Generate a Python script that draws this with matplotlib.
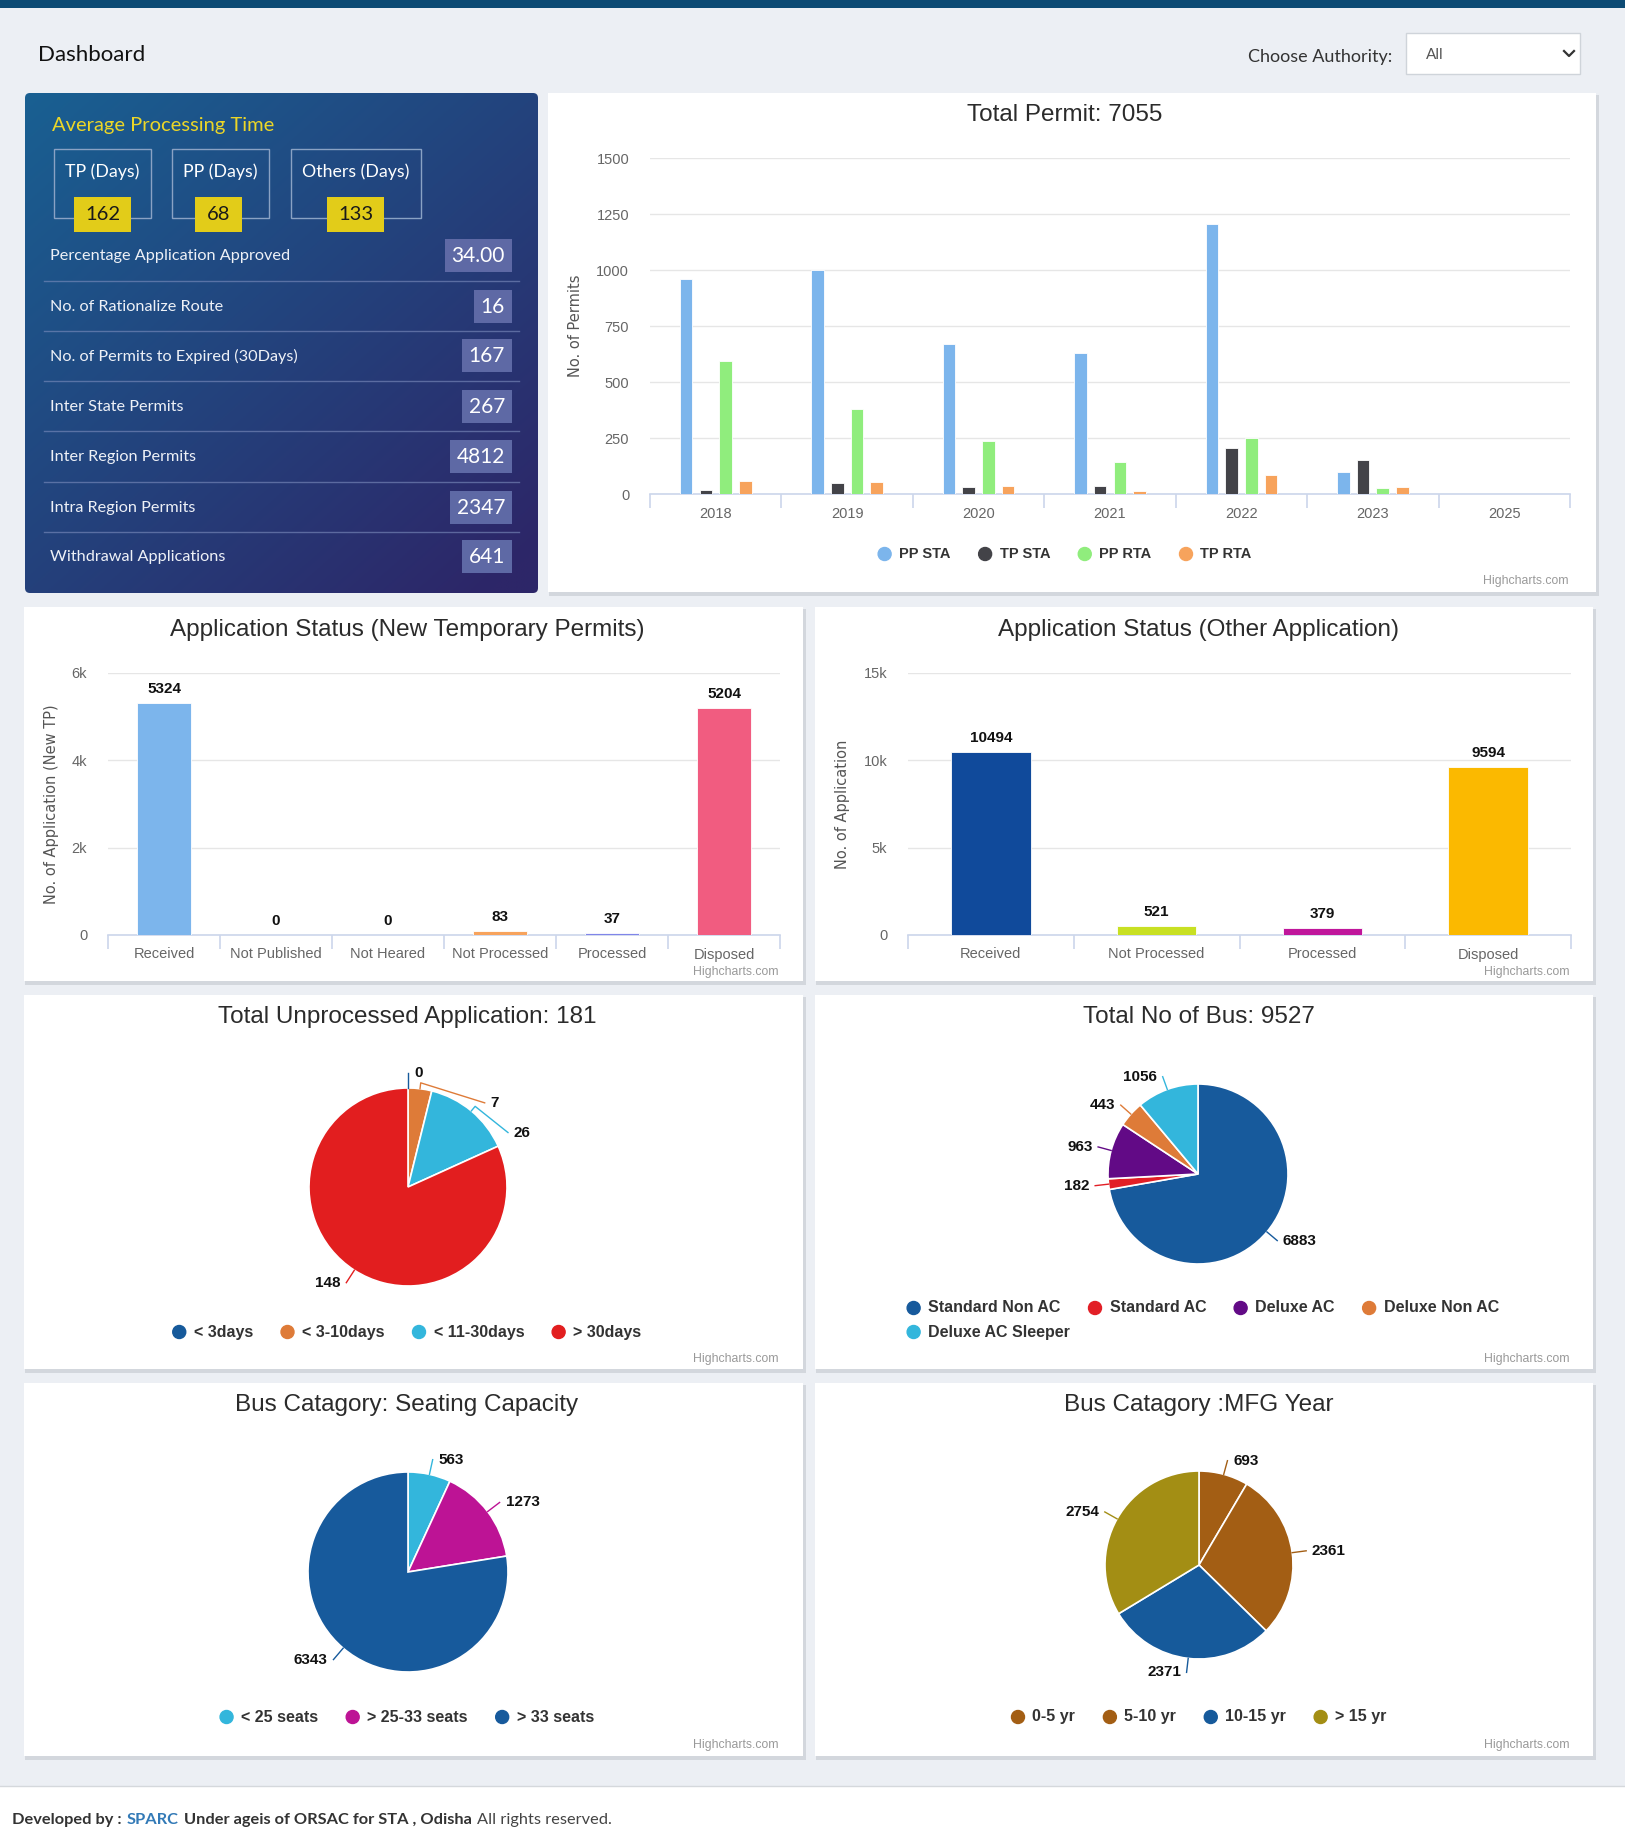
import numpy as np
import matplotlib
matplotlib.use('Agg')
import matplotlib.pyplot as plt
from matplotlib.patches import Rectangle, FancyBboxPatch, Circle
from matplotlib import font_manager as fm

# ---------------- data ----------------
avg_labels = ['TP (Days)', 'PP (Days)', 'Others (Days)']
avg_values = ['162', '68', '133']
stat_labels = ['Percentage Application Approved', 'No. of Rationalize Route',
               'No. of Permits to Expired (30Days)', 'Inter State Permits',
               'Inter Region Permits', 'Intra Region Permits', 'Withdrawal Applications']
stat_values = ['34.00', '16', '167', '267', '4812', '2347', '641']

permit_years = ['2018', '2019', '2020', '2021', '2022', '2023', '2025']
permit_series = ['PP STA', 'TP STA', 'PP RTA', 'TP RTA']
pp_sta = [958, 1002, 669, 629, 1207, 96, 0]
tp_sta = [19, 47, 31, 36, 207, 154, 0]
pp_rta = [595, 381, 235, 141, 252, 25, 0]
tp_rta = [58, 53, 36, 13, 86, 31, 0]
total_permit = 7055

tp_status_cats = ['Received', 'Not Published', 'Not Heared', 'Not Processed', 'Processed', 'Disposed']
tp_status_vals = [5324, 0, 0, 83, 37, 5204]
other_status_cats = ['Received', 'Not Processed', 'Processed', 'Disposed']
other_status_vals = [10494, 521, 379, 9594]

unproc_labels = ['< 3days', '< 3-10days', '< 11-30days', '> 30days']
unproc_vals = [0, 7, 26, 148]
bus_labels = ['Standard Non AC', 'Standard AC', 'Deluxe AC', 'Deluxe Non AC', 'Deluxe AC Sleeper']
bus_vals = [6883, 182, 963, 443, 1056]
seat_labels = ['< 25 seats', '> 25-33 seats', '> 33 seats']
seat_vals = [563, 1273, 6343]
mfg_labels = ['0-5 yr', '5-10 yr', '10-15 yr', '> 15 yr']
mfg_vals = [693, 2361, 2371, 2754]

# ---------------- styles ----------------
permit_colors = ['#7cb5ec', '#434348', '#90ed7d', '#f7a35c']
tp_status_colors = ['#7cb5ec', '#434348', '#90ed7d', '#f7a35c', '#8085e9', '#f15c80']
other_status_colors = ['#104a9b', '#c8e023', '#c0169b', '#fbb900']
unproc_colors = ['#165a9b', '#de7b38', '#33b6dc', '#e21e1f']
bus_colors = ['#175a9c', '#e21f26', '#620a86', '#de7b38', '#33b6dc']
seat_colors = ['#33b6dc', '#bd1395', '#175a9c']
mfg_colors = ['#a35e14', '#a35e14', '#165a9b', '#a38e14']

avail = {f.name for f in fm.fontManager.ttflist}
COND = 'Liberation Sans Narrow' if 'Liberation Sans Narrow' in avail else 'Liberation Sans'
SANS = 'Lato'
plt.rcParams['font.family'] = [COND, 'DejaVu Sans']

W, H = 1625, 1845
fig = plt.figure(figsize=(W / 100, H / 100), dpi=100)
fig.patch.set_facecolor('#eceff4')
bg = fig.add_axes([0, 0, 1, 1])
bg.axis('off')
R = fig.canvas.get_renderer()


def axpx(x0, y0, x1, y1):
    a = fig.add_axes([x0 / W, 1 - y1 / H, (x1 - x0) / W, (y1 - y0) / H])
    a.set_facecolor('none')
    return a


def card(x0, y0, x1, y1):
    bg.add_patch(Rectangle((x0 + 1, y0 + 2), x1 - x0 + 2, y1 - y0 + 2, color='#d3d7dd', zorder=1, lw=0))
    bg.add_patch(Rectangle((x0, y0), x1 - x0, y1 - y0, color='white', zorder=2, lw=0))


def twidth(s, **kw):
    t = bg.text(0, 0, s, **kw)
    w = t.get_window_extent(R).width
    t.remove()
    return w


# ---------------- header ----------------
bg.add_patch(Rectangle((0, 0), W, 8, color='#0c4a74', zorder=2, lw=0))
bg.text(38, 55, 'Dashboard', fontsize=16, family=SANS, color='#111', va='center', zorder=4)
bg.text(1392, 57, 'Choose Authority:', fontsize=13, family=SANS, color='#333', va='center', ha='right', zorder=4)
bg.add_patch(Rectangle((1406, 33), 174, 41, facecolor='white', edgecolor='#cfd4da', lw=1, zorder=2))
bg.text(1426, 55, 'All', fontsize=11, family=SANS, color='#555', va='center', zorder=4)
bg.plot([1564, 1569, 1574], [51, 56, 51], color='#333', lw=1.6, zorder=4)

# ---------------- left gradient panel ----------------
px0, py0, px1, py1 = 25, 93, 538, 593
yy, xx = np.mgrid[0:1:200j, 0:1:200j]
t = np.clip(0.5 * xx + 0.55 * yy, 0, 1)[..., None]
c1 = np.array([0x19, 0x60, 0x92]) / 255
c2 = np.array([0x2d, 0x26, 0x68]) / 255
grad = c1 * (1 - t) + c2 * t
im = bg.imshow(grad, extent=(px0, px1, py1, py0), origin='upper', aspect='auto', zorder=2)
clip = FancyBboxPatch((px0, py0), px1 - px0, py1 - py0, boxstyle='round,pad=0,rounding_size=5',
                      transform=bg.transData, facecolor='none', edgecolor='none')
bg.add_patch(clip)
im.set_clip_path(clip)

bg.text(52, 126, 'Average Processing Time', fontsize=14.5, family=SANS, color='#ecd627', va='center', zorder=4)
box_x = [(54, 151), (172, 269), (291, 421)]
yel_x = [(74, 131), (195, 242), (327, 384)]
for (bx0, bx1), (yx0, yx1), lab, val in zip(box_x, yel_x, avg_labels, avg_values):
    bg.add_patch(Rectangle((bx0, 149), bx1 - bx0, 69, facecolor='none', edgecolor='#8aa2c4', lw=1, zorder=3))
    bg.text((bx0 + bx1) / 2, 172, lab, fontsize=12.8, family=SANS, color='white', ha='center', va='center', zorder=4)
    bg.add_patch(Rectangle((yx0, 197), yx1 - yx0, 35, facecolor='#e2cc19', edgecolor='none', zorder=4))
    bg.text((yx0 + yx1) / 2, 215, val, fontsize=14.5, family=SANS, color='#1a1a1a', ha='center', va='center', zorder=5)

row_y = [256, 307, 356, 407, 457, 508, 557]
for i, (lab, val) in enumerate(zip(stat_labels, stat_values)):
    y = row_y[i]
    bg.text(50, y, lab, fontsize=11.7, family=SANS, color='#eef1f7', va='center', zorder=4)
    w = twidth(val, fontsize=15, family=SANS)
    bw = w + 14
    bg.add_patch(Rectangle((512 - bw, y - 17), bw, 33, facecolor='#5e69a5', edgecolor='none', zorder=3))
    bg.text(512 - 7, y, val, fontsize=15, family=SANS, color='white', ha='right', va='center', zorder=4)
    if i < len(stat_labels) - 1:
        sy = (row_y[i] + row_y[i + 1]) / 2 - 1
        bg.plot([44, 519], [sy, sy], color='#7f8fbf', lw=1, alpha=0.6, zorder=3)

# ---------------- helpers for charts ----------------
def title(cx, y, s):
    bg.text(cx, y, s, fontsize=17.5, color='#2b2b2b', ha='center', va='center', zorder=4, family=COND)


def credits(x, y):
    bg.text(x, y, 'Highcharts.com', fontsize=8.8, color='#999', ha='right', va='center', zorder=4)


def ylabel(x, y, s):
    bg.text(x, y, s, fontsize=10.5, family='DejaVu Sans', color='#555', rotation=90,
            ha='center', va='center', zorder=4)


def legend(items, colors, cx, y, fs=11.5, maxw=None, gap=28, rad=6.5, line_h=24):
    kw = dict(fontsize=fs, fontweight='bold', family=COND)
    widths = [twidth(s, **kw) for s in items]
    iw = [2 * rad + 8 + w for w in widths]
    lines, cur, curw = [], [], 0
    for i, w in enumerate(iw):
        if maxw and cur and curw + w > maxw:
            lines.append(cur)
            cur, curw = [], 0
        cur.append(i)
        curw += w + gap
    lines.append(cur)
    lw_ = [sum(iw[i] for i in l) + gap * (len(l) - 1) for l in lines]
    x0 = cx - max(lw_) / 2
    for li, l in enumerate(lines):
        x = x0
        yy_ = y + li * line_h
        for i in l:
            bg.add_patch(Circle((x + rad, yy_), rad, color=colors[i], zorder=4))
            bg.text(x + 2 * rad + 8, yy_, items[i], va='center', ha='left', color='#333', zorder=4, **kw)
            x += iw[i] + gap


def style_bar_axes(ax, cats, ymax, yticks, ylabels, ypad=14):
    ax.set_xlim(-0.5, len(cats) - 0.5)
    ax.set_ylim(0, ymax)
    for s in ['top', 'right', 'left']:
        ax.spines[s].set_visible(False)
    ax.spines['bottom'].set_color('#ccd6eb')
    ax.spines['bottom'].set_linewidth(1.2)
    ax.set_yticks(yticks)
    ax.set_yticklabels(ylabels)
    ax.yaxis.grid(True, color='#e6e6e6', lw=1)
    ax.set_axisbelow(True)
    ax.set_xticks(np.arange(len(cats)))
    ax.set_xticklabels(cats)
    ax.set_xticks(np.arange(-0.5, len(cats), 1), minor=True)
    ax.tick_params(axis='x', which='major', length=0, pad=9, labelsize=10.5, labelcolor='#666')
    ax.tick_params(axis='x', which='minor', length=10, color='#ccd6eb', width=1.2)
    ax.tick_params(axis='y', length=0, pad=ypad, labelsize=10.5, labelcolor='#666')


# ---------------- Total Permit ----------------
card(548, 93, 1596, 592)
title(1065, 115, 'Total Permit: %d' % total_permit)
ax = axpx(650, 158, 1570, 494)
xs = np.arange(len(permit_years))
for i, (name, vals) in enumerate(zip(permit_series, [pp_sta, tp_sta, pp_rta, tp_rta])):
    ax.bar(xs + (i - 1.5) * 0.15, vals, width=0.095, color=permit_colors[i], edgecolor='white', lw=0.6, zorder=3)
style_bar_axes(ax, permit_years, 1500, [0, 250, 500, 750, 1000, 1250, 1500],
               ['0', '250', '500', '750', '1000', '1250', '1500'], ypad=15)
ylabel(575, 326, 'No. of Permits')
legend(permit_series, permit_colors, 1065, 554, fs=10.5)
credits(1569, 581)

# ---------------- Application status (TP) ----------------
card(24, 607, 803, 981)
title(407, 630, 'Application Status (New Temporary Permits)')
ax = axpx(108, 673, 780, 935)
xs = np.arange(len(tp_status_cats))
ax.bar(xs, tp_status_vals, width=0.48, color=tp_status_colors, edgecolor='white', lw=0.6, zorder=3)
for x, v in zip(xs, tp_status_vals):
    ax.annotate(str(v), (x, v), xytext=(0, 5), textcoords='offset points', ha='center', va='bottom',
                fontsize=11, fontweight='bold', color='#111')
style_bar_axes(ax, tp_status_cats, 6000, [0, 2000, 4000, 6000], ['0', '2k', '4k', '6k'], ypad=15)
ylabel(52, 804, 'No. of Application (New TP)')
credits(779, 972)

# ---------------- Application status (Other) ----------------
card(815, 607, 1593, 981)
title(1199, 630, 'Application Status (Other Application)')
ax = axpx(908, 673, 1571, 935)
xs = np.arange(len(other_status_cats))
ax.bar(xs, other_status_vals, width=0.48, color=other_status_colors, edgecolor='white', lw=0.6, zorder=3)
for x, v in zip(xs, other_status_vals):
    ax.annotate(str(v), (x, v), xytext=(0, 5), textcoords='offset points', ha='center', va='bottom',
                fontsize=11, fontweight='bold', color='#111')
style_bar_axes(ax, other_status_cats, 15000, [0, 5000, 10000, 15000], ['0', '5k', '10k', '15k'], ypad=15)
ylabel(843, 804, 'No. of Application')
credits(1570, 972)


# ---------------- pies ----------------
def pie(cx, cy, r, vals, colors, Rl=1.15, dmin=0.3):
    half = r * 1.8
    ax = axpx(cx - half, cy - half, cx + half, cy + half)
    ax.pie(vals, colors=colors, startangle=90, counterclock=False, radius=1,
           wedgeprops=dict(edgecolor='white', linewidth=1.2))
    ax.set_xlim(-1.8, 1.8)
    ax.set_ylim(-1.8, 1.8)
    ax.set_aspect('equal')
    ax.axis('off')
    tot = float(sum(vals))
    cum = np.cumsum([0] + list(vals))[:-1] / tot
    fr = np.array(vals) / tot
    ang = np.deg2rad(90 - (cum + fr / 2) * 360)
    side = np.where(np.cos(ang) >= -1e-9, 1, -1)
    ly = Rl * np.sin(ang)
    for sd in (1, -1):
        idx = [i for i in range(len(vals)) if side[i] == sd]
        idx.sort(key=lambda i: -ly[i])
        prev = None
        for i in idx:
            if prev is not None and ly[i] > prev - dmin:
                ly[i] = prev - dmin
            prev = ly[i]
    for i, v in enumerate(vals):
        y = ly[i]
        x = side[i] * np.sqrt(max(Rl ** 2 - y ** 2, 0))
        ex, ey = np.cos(ang[i]), np.sin(ang[i])
        mx, my = 1.06 * ex, 1.06 * ey
        ax.plot([ex, mx, x], [ey, my, y], color=colors[i], lw=1, clip_on=False)
        ax.text(x + side[i] * 0.06, y, str(v), ha='left' if side[i] > 0 else 'right', va='center',
                fontsize=11, fontweight='bold', color='#111')


card(24, 995, 803, 1369)
title(407, 1017, 'Total Unprocessed Application: %d' % sum(unproc_vals))
pie(408, 1187, 99, unproc_vals, unproc_colors)
legend(unproc_labels, unproc_colors, 407, 1332)
credits(779, 1359)

card(815, 995, 1593, 1369)
title(1199, 1017, 'Total No of Bus: %d' % sum(bus_vals))
pie(1198, 1174, 90, bus_vals, bus_colors)
legend(bus_labels, bus_colors, 1203, 1308, maxw=640)
credits(1570, 1359)

card(24, 1383, 803, 1756)
title(407, 1405, 'Bus Catagory: Seating Capacity')
pie(408, 1572, 100, seat_vals, seat_colors)
legend(seat_labels, seat_colors, 407, 1717)
credits(779, 1745)

card(815, 1383, 1593, 1756)
title(1199, 1405, 'Bus Catagory :MFG Year')
pie(1199, 1565, 94, mfg_vals, mfg_colors)
legend(mfg_labels, mfg_colors, 1199, 1717)
credits(1570, 1745)

# ---------------- footer ----------------
bg.add_patch(Rectangle((0, 1786), W, H - 1786, color='white', zorder=2, lw=0))
bg.plot([0, W], [1786, 1786], color='#d5d8dc', lw=1, zorder=3)
parts = [('Developed by :', dict(fontweight='bold', color='#333')),
         ('SPARC', dict(fontweight='bold', color='#337ab7')),
         ('Under ageis of ORSAC for STA , Odisha', dict(fontweight='bold', color='#333')),
         ('All rights reserved.', dict(color='#444'))]
x = 12
for s, kw in parts:
    tt = bg.text(x, 1820, s, fontsize=11.8, family=SANS, va='center', ha='left', zorder=4, **kw)
    x += tt.get_window_extent(R).width + 5

bg.set_xlim(0, W)
bg.set_ylim(H, 0)
fig.savefig('out.png', dpi=100, facecolor=fig.get_facecolor())
